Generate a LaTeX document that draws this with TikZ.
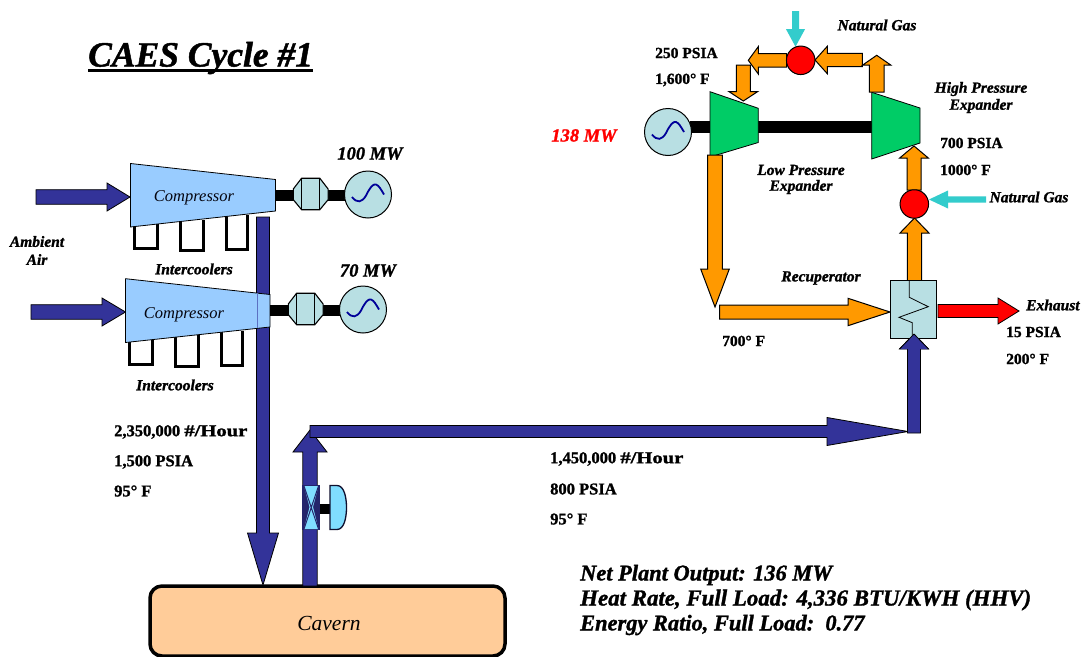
\documentclass[tikz,border=0pt]{standalone}
\usepackage{fontspec}
\setmainfont{Liberation Serif}[BoldFeatures={FakeBold=1.3},BoldItalicFeatures={FakeBold=1.3}]
\usetikzlibrary{calc}
\definecolor{navy}{HTML}{333399}
\definecolor{orng}{HTML}{FF9900}
\definecolor{cyn}{HTML}{33CCCC}
\definecolor{grn}{HTML}{00CC66}
\definecolor{lblue}{HTML}{99CCFF}
\definecolor{pale}{HTML}{B8DFE3}
\definecolor{cav}{HTML}{FFCC99}
\definecolor{valve}{HTML}{80DDFF}
\newcommand{\fsz}[1]{\fontsize{#1}{#1}\selectfont}
% block arrow: name, style, start, end, shaft half, head half, head length
\newcommand{\blockarrow}[7]{%
  \coordinate (#1-a) at #3;
  \coordinate (#1-b) at #4;
  \coordinate (#1-h) at ($(#1-b)!#7pt!(#1-a)$);
  \draw[#2,line join=miter] ($(#1-a)!#5pt!90:(#1-b)$) -- ($(#1-h)!#5pt!90:(#1-b)$)
    -- ($(#1-h)!#6pt!90:(#1-b)$) -- (#1-b) -- ($(#1-h)!#6pt!-90:(#1-b)$)
    -- ($(#1-h)!#5pt!-90:(#1-b)$) -- ($(#1-a)!#5pt!-90:(#1-b)$) -- cycle;}
\newcommand{\coupling}[1]{%
  \begin{scope}[shift={#1}]
    \draw[line width=1.1pt,fill=pale] (-14.5,-5.5) -- (-6.2,-16.3) -- (12,-16.3) -- (20.3,-5.5)
      -- (20.3,5.2) -- (12,15.2) -- (-6.2,15.2) -- (-14.5,5.2) -- cycle;
    \draw[line width=1.1pt] (-6.2,-16.3) -- (-6.2,15.2) (12,-16.3) -- (12,15.2);
  \end{scope}}
\newcommand{\sine}[1]{%
  \draw[sinewave] ($#1+(-16,2.5)$) .. controls ($#1+(-11,9)$) and ($#1+(-6,8)$) .. ($#1+(-2,1)$)
    .. controls ($#1+(2,-7)$) and ($#1+(5,-11)$) .. ($#1+(8,-10)$)
    .. controls ($#1+(11,-9)$) and ($#1+(13,-5)$) .. ($#1+(16,0)$);}
\newcommand{\cooler}[4]{%
  \draw[cooler] (#1,#3) -- (#1,#4) -- (#2,#4) -- (#2,#3);}
\newcommand{\perhour}{\scalebox{1.25}[1]{\#/Hour}}
\tikzset{
  navyarrow/.style={fill=navy,draw=black,line width=0.8pt},
  orarrow/.style={fill=orng,draw=black,line width=1pt},
  cyarrow/.style={fill=cyn,draw=none},
  redarrow/.style={fill=red,draw=black,line width=0.8pt},
  genbox/.style={circle,draw=black,line width=1pt,fill=pale,minimum size=47pt,inner sep=0pt},
  burner/.style={circle,draw=black,line width=1pt,fill=red,minimum size=28.5pt,inner sep=0pt},
  sinewave/.style={draw=blue!60!black,line width=1.8pt},
  cooler/.style={draw=black,line width=3pt,line join=miter},
  shaftline/.style={fill=black,draw=none},
  comp/.style={fill=lblue,draw=black,line width=0.8pt},
  turb/.style={fill=grn,draw=black,line width=0.8pt},
  lbl/.style={inner sep=0pt,font=\fsz{15.5}\bfseries\itshape,align=center},
  data/.style={inner sep=0pt,anchor=west,font=\fsz{16.5}\bfseries},
  smalldata/.style={inner sep=0pt,anchor=west,font=\fsz{15.5}\bfseries},
  mw/.style={inner sep=0pt,font=\fsz{18.5}\bfseries\itshape},
  compname/.style={inner sep=0pt,font=\fsz{16.5}\itshape,text=black!90!navy},
  summary/.style={inner sep=0pt,anchor=west,font=\fsz{22.4}\bfseries\itshape},
  longsummary/.style={inner sep=0pt,anchor=west,font=\fsz{22.9}\bfseries\itshape},
}
\begin{document}
\begin{tikzpicture}[x=1pt,y=-1pt]
\useasboundingbox (0,0) rectangle (1084,656);
\fill[white] (0,0) rectangle (1084,656);

% title
\node[inner sep=0pt,anchor=base west,font=\fsz{35.5}\bfseries\itshape] (title) at (88,66.5) {CAES Cycle \#1};
\draw[line width=2.4pt] ($(title.base west)+(0,4)$) -- ($(title.base east)+(0,4)$);

% cavern
\node[draw=black,line width=3.5pt,fill=cav,rounded corners=12pt,minimum width=355pt,minimum height=70pt,inner sep=0pt] (cavern) at (327.5,621) {};
\node[inner sep=0pt,font=\fsz{21.5}\itshape] (cavernlbl) at (329,623) {Cavern};

% main air lines
\blockarrow{chg}{navyarrow}{(263,217)}{(263,585)}{6.5}{15.5}{52}
\blockarrow{dis}{navyarrow}{(310,586)}{(310,430)}{7.2}{17}{22}
\blockarrow{hor}{navyarrow}{(310,431.5)}{(908,431.5)}{6}{14}{81}
\blockarrow{riser}{navyarrow}{(914,433)}{(914,334)}{6.5}{14.5}{15}

% upper compressor train
\blockarrow{ain}{navyarrow}{(36,197)}{(130,197)}{7.3}{14}{23}
\cooler{134}{157}{224}{248}
\cooler{180}{203}{220}{250}
\cooler{226}{247}{215}{249}
\draw[comp] (130.5,163.5) -- (275.5,179.5) -- (275.5,211) -- (130.5,227) -- cycle;
\node[compname] (c1) at (194,198) {Compressor};
\fill[shaftline] (275.5,190) rectangle (345,201);
\coupling{(307.8,194.5)}
\node[genbox] (g1) at (368,194.5) {};
\sine{(368,194.5)}

% lower compressor train
\blockarrow{bin}{navyarrow}{(31,312)}{(125.5,312)}{7.3}{14}{23.5}
\cooler{129}{152}{339}{364}
\cooler{175}{198}{335}{366}
\cooler{221}{242}{331}{365}
\draw[comp] (125.5,278.7) -- (270,294.5) -- (270,327) -- (125.5,342.5) -- cycle;
\draw[navy!60!lblue,line width=0.7pt] (257,293.2) -- (257,328.4);
\node[compname] (c2) at (184,315) {Compressor};
\fill[shaftline] (270,305) rectangle (340,316);
\coupling{(302.8,309.5)}
\node[genbox] (g2) at (363,309.5) {};
\sine{(363,309.5)}

% valve
\fill[navy!70!black] (302,485) rectangle (320,530);
\fill[valve] (304,486) -- (318.5,486) -- (313,507) -- (318.5,529) -- (304,529) -- (309.5,507) -- cycle;
\draw[navy!70!black,line width=1pt] (304,486) -- (318.5,529) (318.5,486) -- (304,529);
\fill[black] (320,504) rectangle (330,514);
\draw[black!70!navy,fill=valve,line width=1.3pt] (330,485.5) -- (337,485.5) .. controls (344,485.5) and (346.5,497) .. (346.5,507.5) .. controls (346.5,518) and (344,529.5) .. (337,529.5) -- (330,529.5) -- cycle;

% expander train
\fill[shaftline] (690,121) rectangle (712,133);
\fill[shaftline] (756,121) rectangle (873,133);
\draw[turb] (710,91.7) -- (758.3,108.3) -- (758.3,142.5) -- (710,157) -- cycle;
\draw[turb] (871.7,92.3) -- (920,108) -- (920,143) -- (871.7,159) -- cycle;
\blockarrow{lpx}{orarrow}{(715,155)}{(715,307)}{7.3}{14.3}{38}
\node[genbox] (g3) at (668,132) {};
\sine{(668,132)}

% top reheater
\blockarrow{t1}{orarrow}{(862.3,60)}{(815,60)}{6.7}{13.7}{12.3}
\blockarrow{t2}{orarrow}{(786.7,60.3)}{(748.3,60.3)}{6.7}{13.7}{10}
\blockarrow{t3}{orarrow}{(743.3,65)}{(743.3,101)}{7}{14.5}{9.5}
\blockarrow{t4}{orarrow}{(876.7,92)}{(876.7,55.3)}{7.3}{14}{9.7}
\blockarrow{t5}{cyarrow}{(795.5,11)}{(795.5,46.7)}{3.5}{9.5}{17.5}
\node[burner] (b1) at (800.7,60.3) {};

% lower reheater
\blockarrow{r1}{orarrow}{(914,190)}{(914,146)}{7}{14.3}{12}
\blockarrow{r2}{orarrow}{(914.5,281)}{(914.5,218)}{7.2}{14.5}{15}
\blockarrow{r3}{cyarrow}{(986,199.5)}{(929,199.5)}{3.2}{9}{19}
\node[burner] (b2) at (914.3,204) {};

% recuperator
\blockarrow{rin}{orarrow}{(719.5,312)}{(890,312)}{7}{13.7}{42}
\blockarrow{ex}{redarrow}{(938,311)}{(1019,311)}{6.5}{13}{21}
\node[draw=black,line width=0.8pt,fill=pale,minimum width=46pt,minimum height=57.7pt,inner sep=0pt] (rec) at (913.7,309.2) {};
\draw[black,line width=0.8pt] (909.3,280.3) -- (909.3,297.3) -- (928.3,306.7) -- (899,317.3) -- (912.3,322.7) -- (912.3,337);
\fill[navy] (914,334) -- (900,349) -- (928.5,349) -- cycle;
\draw[black,line width=0.8pt] (914,334) -- (899.5,349) (914,334) -- (928.5,349);

% labels
\node[mw] (l100) at (370,153.5) {100 MW};
\node[mw] (l70) at (368,270.5) {70 MW};
\node[mw,text=red] (l138) at (584,135.5) {138 MW};
\node[lbl] (amb1) at (37,241.5) {Ambient};
\node[lbl] (amb2) at (37,259.5) {Air};
\node[lbl] (ic1) at (194,269) {Intercoolers};
\node[lbl] (ic2) at (175,385) {Intercoolers};
\node[lbl] (lp1) at (801,170) {Low Pressure};
\node[lbl] (lp2) at (801,187) {Expander};
\node[lbl] (hp1) at (981,89) {High Pressure};
\node[lbl] (hp2) at (981,106) {Expander};
\node[lbl] (ng1) at (877,25) {Natural Gas};
\node[lbl] (ng2) at (1029,197) {Natural Gas};
\node[lbl] (recl) at (821,278) {Recuperator};
\node[lbl,anchor=west] (exl) at (1026,305) {Exhaust};

\node[data] (d1) at (114,432) {2,350,000 \perhour};
\node[data] (d2) at (114,462) {1,500 PSIA};
\node[data] (d3) at (114,491) {95° F};
\node[data] (d4) at (550,459) {1,450,000 \perhour};
\node[data] (d5) at (550,489) {800 PSIA};
\node[data] (d6) at (550,519) {95° F};
\node[smalldata] (d7) at (655,53) {250 PSIA};
\node[smalldata] (d8) at (655,80) {1,600° F};
\node[smalldata] (d9) at (940,143) {700 PSIA};
\node[smalldata] (d10) at (940,170) {1000° F};
\node[smalldata] (d11) at (722,341) {700° F};
\node[smalldata] (d12) at (1006,332) {15 PSIA};
\node[smalldata] (d13) at (1006,359) {200° F};

\node[summary] (s1) at (580,575) {Net Plant Output: 136 MW};
\node[longsummary] (s2) at (580,600) {Heat Rate, Full Load: 4,336 BTU/KWH (HHV)};
\node[summary] (s3) at (580,625) {Energy Ratio, Full Load:\ \ 0.77};
\end{tikzpicture}
\end{document}
